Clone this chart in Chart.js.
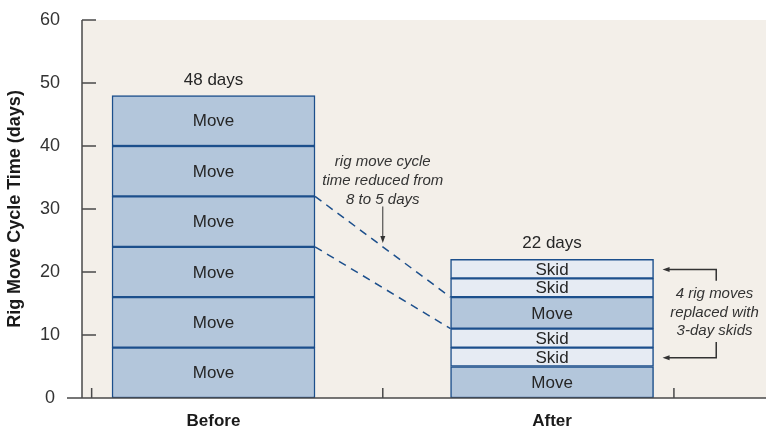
<!DOCTYPE html>
<html>
<head>
<meta charset="utf-8">
<script src="https://cdn.jsdelivr.net/npm/chart.js@4.4.1/dist/chart.umd.min.js"></script>
<style>
    html, body { margin: 0; padding: 0; background: #ffffff; }
    #wrap { width: 766px; height: 429px; }
</style>
</head>
<body>
<div id="wrap"><canvas id="rigChart"></canvas></div>
<script>
const categories = ["Before", "After"];
const categoryX = [1, 2];
const beforeSegments = [8, 8, 8, 8, 8, 8];
const afterSegments = [5, 3, 3, 5, 3, 3];
const beforeKinds = ["Move", "Move", "Move", "Move", "Move", "Move"];
const afterKinds = ["Move", "Skid", "Skid", "Move", "Skid", "Skid"];
const connectors = [[32, 16], [24, 11]];
const noteCycle = ["rig move cycle", "time reduced from", "8 to 5 days"];
const noteSkids = ["4 rig moves", "replaced with", "3-day skids"];
const skidArrowValues = [20.4, 6.4];
const axisMarks = [0.64, 1.5, 2.36];

const FONT = "'Liberation Sans', Arial, Helvetica, sans-serif";
const colors = {
    Move: "#b3c6db",
    Skid: "#e6ebf3",
    border: "#1c4f8c",
    plot: "#f3efe9",
    axis: "#4a4a4a",
    text: "#262626"
};

const datasets = beforeSegments.map((v, i) => ({
    label: "Segment " + (i + 1),
    data: [
        { x: categoryX[0], y: beforeSegments[i] },
        { x: categoryX[1], y: afterSegments[i] }
    ],
    kinds: [beforeKinds[i], afterKinds[i]],
    backgroundColor: [colors[beforeKinds[i]], colors[afterKinds[i]]],
    borderColor: colors.border,
    borderWidth: 1.5,
    borderSkipped: false,
    barThickness: 203
}));

function arrowHead(ctx, x, y, dir) {
    // dir: "down" or "left"
    ctx.beginPath();
    if (dir === "down") {
        ctx.moveTo(x, y);
        ctx.lineTo(x - 2.5, y - 7);
        ctx.lineTo(x + 2.5, y - 7);
    } else {
        ctx.moveTo(x, y);
        ctx.lineTo(x + 7, y - 2.5);
        ctx.lineTo(x + 7, y + 2.5);
    }
    ctx.closePath();
    ctx.fill();
}

const decorPlugin = {
    id: "decor",
    beforeDraw(chart) {
        const { ctx, chartArea: a } = chart;
        ctx.save();
        ctx.fillStyle = colors.plot;
        ctx.fillRect(a.left, a.top, a.right - a.left, a.bottom - a.top);
        ctx.restore();
    },
    afterDatasetsDraw(chart) {
        const { ctx, chartArea: a } = chart;
        const xs = chart.scales.x;
        const ys = chart.scales.y;

        ctx.save();
        // axes
        ctx.strokeStyle = colors.axis;
        ctx.lineWidth = 1.5;
        ctx.beginPath();
        ctx.moveTo(a.left, a.top);
        ctx.lineTo(a.left, a.bottom);
        ctx.moveTo(a.left - 15, a.bottom);
        ctx.lineTo(a.right, a.bottom);
        ys.ticks.forEach(t => {
            const y = ys.getPixelForValue(t.value);
            ctx.moveTo(a.left, y);
            ctx.lineTo(a.left + 14, y);
        });
        axisMarks.forEach(v => {
            const x = xs.getPixelForValue(v);
            ctx.moveTo(x, a.bottom);
            ctx.lineTo(x, a.bottom - 10);
        });
        ctx.stroke();

        // segment labels and totals
        ctx.fillStyle = colors.text;
        ctx.textAlign = "center";
        ctx.textBaseline = "middle";
        ctx.font = "17px " + FONT;
        chart.data.datasets.forEach((ds, di) => {
            const meta = chart.getDatasetMeta(di);
            meta.data.forEach((bar, bi) => {
                ctx.fillText(ds.kinds[bi], bar.x, (bar.y + bar.base) / 2 + 1);
            });
        });
        categoryX.forEach((cx, ci) => {
            const segs = ci === 0 ? beforeSegments : afterSegments;
            const total = segs.reduce((s, v) => s + v, 0);
            ctx.textBaseline = "alphabetic";
            ctx.fillText(total + " days", xs.getPixelForValue(cx), ys.getPixelForValue(total) - 11);
        });

        // dashed connectors
        const firstBar = chart.getDatasetMeta(0).data;
        const rightEdge = firstBar[0].x + firstBar[0].width / 2;
        const leftEdge = firstBar[1].x - firstBar[1].width / 2;
        ctx.strokeStyle = colors.border;
        ctx.lineWidth = 1.5;
        ctx.setLineDash([8, 6]);
        ctx.beginPath();
        connectors.forEach(([from, to]) => {
            ctx.moveTo(rightEdge, ys.getPixelForValue(from));
            ctx.lineTo(leftEdge, ys.getPixelForValue(to));
        });
        ctx.stroke();
        ctx.setLineDash([]);

        // middle note
        ctx.font = "italic 15px " + FONT;
        ctx.fillStyle = "#333333";
        ctx.textBaseline = "middle";
        const midX = xs.getPixelForValue(1.5);
        noteCycle.forEach((line, i) => {
            ctx.fillText(line, midX, ys.getPixelForValue(37.5) + i * 18.8);
        });
        ctx.strokeStyle = "#333333";
        ctx.lineWidth = 1;
        ctx.beginPath();
        ctx.moveTo(midX, ys.getPixelForValue(30.4));
        ctx.lineTo(midX, ys.getPixelForValue(24.6) - 4);
        ctx.stroke();
        arrowHead(ctx, midX, ys.getPixelForValue(24.6), "down");

        // right note with bracket
        const noteX = xs.getPixelForValue(2.48);
        noteSkids.forEach((line, i) => {
            ctx.fillText(line, noteX, ys.getPixelForValue(16.5) + i * 18.5);
        });
        const bracketX = xs.getPixelForValue(2.485);
        const tipX = firstBar[1].x + firstBar[1].width / 2 + 9;
        const yTop = ys.getPixelForValue(skidArrowValues[0]);
        const yBot = ys.getPixelForValue(skidArrowValues[1]);
        ctx.lineWidth = 1.5;
        ctx.beginPath();
        ctx.moveTo(tipX + 4, yTop);
        ctx.lineTo(bracketX, yTop);
        ctx.lineTo(bracketX, ys.getPixelForValue(18.6));
        ctx.moveTo(bracketX, ys.getPixelForValue(8.9));
        ctx.lineTo(bracketX, yBot);
        ctx.lineTo(tipX + 4, yBot);
        ctx.stroke();
        arrowHead(ctx, tipX, yTop, "left");
        arrowHead(ctx, tipX, yBot, "left");
        ctx.restore();
    }
};

new Chart(document.getElementById("rigChart"), {
    type: "bar",
    data: { datasets: datasets },
    plugins: [decorPlugin],
    options: {
        responsive: true,
        maintainAspectRatio: false,
        animation: false,
        layout: { padding: { top: 20, right: 0, left: 0, bottom: 0 } },
        plugins: {
            legend: { display: false },
            tooltip: { enabled: false }
        },
        scales: {
            x: {
                type: "linear",
                stacked: true,
                offset: false,
                min: 0.6115,
                max: 2.632,
                grid: { display: false, drawTicks: false },
                border: { display: false },
                afterBuildTicks: scale => {
                    scale.ticks = categoryX.map(v => ({ value: v }));
                },
                afterFit: scale => {
                    scale.height = 31;
                    scale.paddingLeft = 0;
                    scale.paddingRight = 0;
                },
                ticks: {
                    padding: 13,
                    color: "#1a1a1a",
                    font: { family: FONT, size: 17, weight: "bold" },
                    callback: value => categories[categoryX.indexOf(value)]
                }
            },
            y: {
                stacked: true,
                min: 0,
                max: 60,
                grid: { display: false, drawTicks: false },
                border: { display: false },
                afterFit: scale => {
                    scale.width = 82;
                    scale.paddingTop = 0;
                    scale.paddingBottom = 0;
                },
                ticks: {
                    stepSize: 10,
                    padding: 22,
                    crossAlign: "center",
                    color: "#333333",
                    font: { family: FONT, size: 18 }
                },
                title: {
                    display: true,
                    text: "Rig Move Cycle Time (days)",
                    color: "#1a1a1a",
                    padding: { top: 4, bottom: 0 },
                    font: { family: FONT, size: 18, weight: "bold" }
                }
            }
        }
    }
});
</script>
</body>
</html>
